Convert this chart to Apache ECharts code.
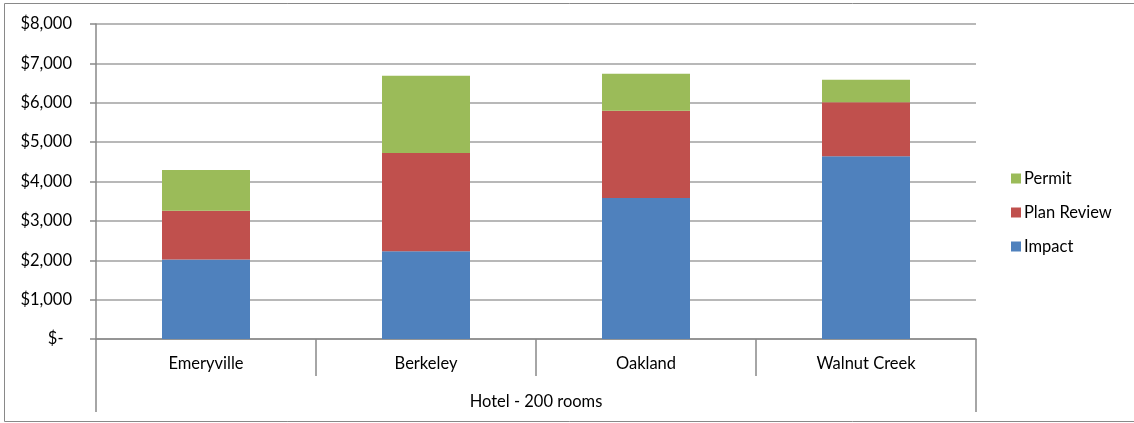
<!DOCTYPE html>
<html>
<head>
<meta charset="utf-8">
<script src="https://cdn.jsdelivr.net/npm/echarts@6/dist/echarts.min.js"></script>
<style>
  html, body { margin: 0; padding: 0; background: #fff; }
  #chart { width: 1134px; height: 423px; }
</style>
</head>
<body>
<div id="chart"></div>
<script>
var cities = ['Emeryville', 'Berkeley', 'Oakland', 'Walnut Creek']
var groupLabel = ['Hotel - 200 rooms']
var impact = [2020, 2230, 3580, 4640]
var planReview = [1240, 2495, 2220, 1375]
var permit = [1030, 1960, 935, 570]
var seriesNames = ['Impact', 'Plan Review', 'Permit']
var legendOrder = ['Permit', 'Plan Review', 'Impact']

var font = 'Lato, "Open Sans", sans-serif'
var fs = 16.5
var myChart = echarts.init(document.getElementById('chart'))

function money(v) {
  if (v === 0) return '$-  '
  return '$' + v.toLocaleString('en-US')
}

var option = {
  animation: false,
  color: ['#4F81BD', '#C0504D', '#9BBB59'],
  textStyle: { fontFamily: font },
  graphic: [{
    type: 'rect',
    shape: { x: 4.5, y: 3.5, width: 1140, height: 418 },
    style: { fill: 'none', stroke: '#898989', lineWidth: 1 },
    silent: true
  }],
  grid: { left: 96, right: 158, top: 24, bottom: 84 },
  legend: {
    orient: 'vertical',
    left: 1006,
    top: 165,
    itemWidth: 10,
    itemHeight: 10,
    itemGap: 17,
    icon: 'rect',
    data: legendOrder,
    textStyle: { fontSize: fs, color: '#000', fontFamily: font, padding: [0, 0, 0, -2] }
  },
  xAxis: [{
    type: 'category',
    data: cities,
    position: 'bottom',
    axisLine: { lineStyle: { color: '#898989', width: 1.5 } },
    axisTick: { show: true, interval: 0, length: 37, lineStyle: { color: '#898989', width: 1.5 } },
    axisLabel: { interval: 0, margin: 16, fontSize: fs, color: '#000', fontFamily: font },
    splitLine: { show: false }
  }, {
    type: 'category',
    data: groupLabel,
    position: 'bottom',
    axisLine: { show: false },
    axisTick: { show: true, length: 73, lineStyle: { color: '#898989', width: 1.5 } },
    axisLabel: { margin: 54, fontSize: fs, color: '#000', fontFamily: font },
    splitLine: { show: false }
  }],
  yAxis: {
    type: 'value',
    min: 0,
    max: 8000,
    interval: 1000,
    axisLine: { show: true, lineStyle: { color: '#898989', width: 1.5 } },
    axisTick: { show: true, length: 6, lineStyle: { color: '#898989', width: 1.5 } },
    axisLabel: { formatter: money, margin: 24, fontSize: fs, color: '#000', fontFamily: font },
    splitLine: { lineStyle: { color: '#A0A0A0', width: 1.5 } }
  },
  series: [
    { name: seriesNames[0], type: 'bar', stack: 'fees', data: impact, barWidth: '40%' },
    { name: seriesNames[1], type: 'bar', stack: 'fees', data: planReview, barWidth: '40%' },
    { name: seriesNames[2], type: 'bar', stack: 'fees', data: permit, barWidth: '40%' }
  ]
}

myChart.setOption(option)
</script>
</body>
</html>
